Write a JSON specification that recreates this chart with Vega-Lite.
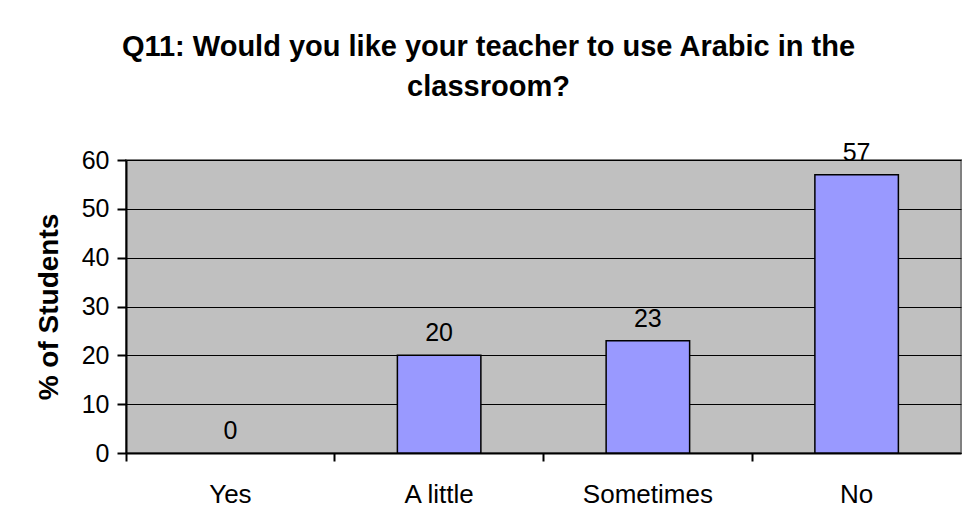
{
  "$schema": "https://vega.github.io/schema/vega-lite/v6.json",
  "width": 835,
  "height": 293,
  "autosize": {"type": "none"},
  "padding": {"left": 126, "top": 160, "right": 5, "bottom": 76},
  "background": "white",
  "title": {
    "text": ["Q11: Would you like your teacher to use Arabic in the", "classroom?"],
    "font": "Liberation Sans",
    "fontSize": 29,
    "fontWeight": "bold",
    "color": "black",
    "anchor": "middle",
    "dx": -55,
    "lineHeight": 40,
    "offset": 39
  },
  "data": {
    "values": [
      {"answer": "Yes", "pct": 0},
      {"answer": "A little", "pct": 20},
      {"answer": "Sometimes", "pct": 23},
      {"answer": "No", "pct": 57}
    ]
  },
  "encoding": {
    "x": {
      "field": "answer",
      "type": "nominal",
      "sort": null,
      "scale": {"domain": ["Yes", "A little", "Sometimes", "No"], "paddingInner": 0, "paddingOuter": 0},
      "axis": {
        "title": null,
        "labelAngle": 0,
        "bandPosition": 0,
        "labelFont": "Liberation Sans",
        "labelFontSize": 26,
        "labelColor": "black",
        "labelPadding": 20,
        "labelBaseline": "top",
        "tickColor": "black",
        "tickWidth": 2,
        "tickSize": 8,
        "domainColor": "black",
        "domainWidth": 2,
        "grid": false
      }
    },
    "y": {
      "field": "pct",
      "type": "quantitative",
      "scale": {"domain": [0, 60], "nice": false},
      "axis": {
        "title": "% of Students",
        "titleFont": "Liberation Sans",
        "titleFontSize": 28,
        "titleFontWeight": "bold",
        "titleColor": "black",
        "titleX": -69,
        "titleBaseline": "alphabetic",
        "values": [0, 10, 20, 30, 40, 50, 60],
        "labelFont": "Liberation Sans",
        "labelFontSize": 25,
        "labelColor": "black",
        "labelPadding": 8,
        "tickColor": "black",
        "tickWidth": 2,
        "tickSize": 9,
        "domainColor": "black",
        "domainWidth": 2,
        "grid": true,
        "gridColor": "black",
        "gridWidth": 1,
        "gridOpacity": 1
      }
    }
  },
  "layer": [
    {
      "transform": [{"filter": "datum.pct > 0"}],
      "mark": {"type": "bar", "width": {"band": 0.4}, "color": "#9999FF", "stroke": "black", "strokeWidth": 1.5}
    },
    {
      "mark": {"type": "text", "baseline": "alphabetic", "dy": -14, "font": "Liberation Sans", "fontSize": 25, "color": "black"},
      "encoding": {"text": {"field": "pct", "type": "quantitative"}}
    }
  ],
  "config": {
    "view": {"fill": "#C0C0C0", "stroke": "#808080", "strokeWidth": 2}
  }
}
